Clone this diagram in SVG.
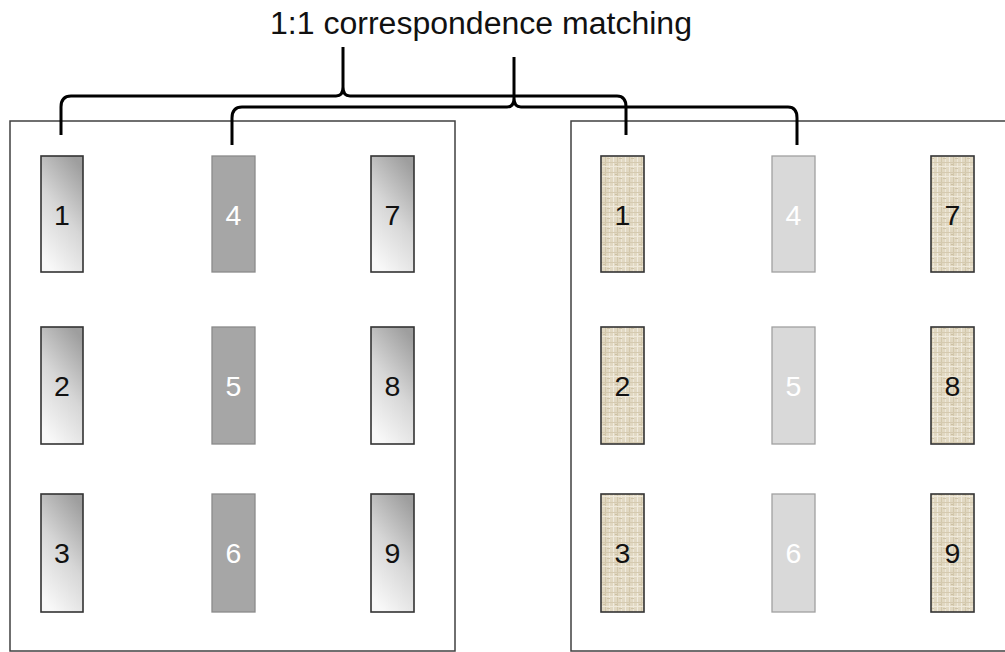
<svg xmlns="http://www.w3.org/2000/svg" width="1005" height="652" viewBox="0 0 1005 652">
  <style>
    .panel { fill: #ffffff; stroke: #404040; stroke-width: 1.5; }
    .grad { fill: url(#greyFade); stroke: #333333; stroke-width: 1.6; }
    .solid { fill: #a6a6a6; stroke: #8a8a8a; stroke-width: 1.3; }
    .burlap { fill: url(#burlapTex); stroke: #333333; stroke-width: 1.6; }
    .pale { fill: #d9d9d9; stroke: #a0a0a0; stroke-width: 1.3; }
    .num { font-family: "Liberation Sans", Arial, sans-serif; font-size: 28.5px; text-anchor: middle; }
    .dark { fill: #111111; }
    .light { fill: #ffffff; }
    .title { font-family: "Liberation Sans", Arial, sans-serif; font-size: 31px; fill: #111111; }
    .brace { fill: none; stroke: #000000; stroke-width: 3; stroke-linejoin: round; }
  </style>
  <defs>
    <linearGradient id="greyFade" x1="0.75" y1="0" x2="0.3" y2="1">
      <stop offset="0" stop-color="#9e9e9e"/>
      <stop offset="0.5" stop-color="#d6d6d6"/>
      <stop offset="1" stop-color="#f8f8f8"/>
    </linearGradient>
    <!-- woven beige texture -->
    <pattern id="burlapTex" patternUnits="userSpaceOnUse" width="12" height="10">
      <rect width="12" height="10" fill="#e1d8c2"/>
      <rect x="1" y="0" width="1" height="10" fill="#f0ebdf"/>
      <rect x="5" y="0" width="1" height="10" fill="#d2c7ab"/>
      <rect x="9" y="0" width="1" height="10" fill="#ede7d8"/>
      <rect x="0" y="2" width="12" height="1" fill="#d5cab0"/>
      <rect x="0" y="6" width="12" height="1" fill="#efe9da"/>
      <rect x="3" y="4" width="2" height="1" fill="#cdc1a4"/>
      <rect x="7" y="8" width="3" height="1" fill="#d0c4a8"/>
    </pattern>
  </defs>

  <text class="title" x="270" y="34" textLength="422" lengthAdjust="spacingAndGlyphs">1:1 correspondence matching</text>

  <!-- panels -->
  <rect id="panel-left" class="panel" x="10" y="121" width="445" height="530"/>
  <rect id="panel-right" class="panel" x="571" y="121" width="445" height="530"/>

  <!-- connectors: curly braces pairing columns -->
  <g id="connectors">
    <path class="brace" d="M61,135 V107 Q61,96 71,96 H336 Q343,96 343,87 V47 M343,87 Q343,96 350,96 H617 Q626,96 626,107 V135"/>
    <path class="brace" d="M232,145 V118 Q232,107 242,107 H507 Q514,107 514,98 V57 M514,98 Q514,107 521,107 H788 Q797,107 797,118 V145"/>
  </g>

  <!-- left set -->
  <g id="L1"><rect class="grad" x="41" y="156" width="42" height="116"/><text class="num dark" x="62" y="225">1</text></g>
  <g id="L2"><rect class="grad" x="41" y="327" width="42" height="117"/><text class="num dark" x="62" y="396">2</text></g>
  <g id="L3"><rect class="grad" x="41" y="494" width="42" height="118"/><text class="num dark" x="62" y="563">3</text></g>
  <g id="L4"><rect class="solid" x="212" y="156" width="43" height="116"/><text class="num light" x="233.5" y="225">4</text></g>
  <g id="L5"><rect class="solid" x="212" y="327" width="43" height="117"/><text class="num light" x="233.5" y="396">5</text></g>
  <g id="L6"><rect class="solid" x="212" y="494" width="43" height="118"/><text class="num light" x="233.5" y="563">6</text></g>
  <g id="L7"><rect class="grad" x="371" y="156" width="43" height="116"/><text class="num dark" x="392.5" y="225">7</text></g>
  <g id="L8"><rect class="grad" x="371" y="327" width="43" height="117"/><text class="num dark" x="392.5" y="396">8</text></g>
  <g id="L9"><rect class="grad" x="371" y="494" width="43" height="118"/><text class="num dark" x="392.5" y="563">9</text></g>

  <!-- right set -->
  <g id="R1"><rect class="burlap" x="601" y="156" width="43" height="116"/><text class="num dark" x="622.5" y="225">1</text></g>
  <g id="R2"><rect class="burlap" x="601" y="327" width="43" height="117"/><text class="num dark" x="622.5" y="396">2</text></g>
  <g id="R3"><rect class="burlap" x="601" y="494" width="43" height="118"/><text class="num dark" x="622.5" y="563">3</text></g>
  <g id="R4"><rect class="pale" x="772" y="156" width="43" height="116"/><text class="num light" x="793.5" y="225">4</text></g>
  <g id="R5"><rect class="pale" x="772" y="327" width="43" height="117"/><text class="num light" x="793.5" y="396">5</text></g>
  <g id="R6"><rect class="pale" x="772" y="494" width="43" height="118"/><text class="num light" x="793.5" y="563">6</text></g>
  <g id="R7"><rect class="burlap" x="931" y="156" width="43" height="116"/><text class="num dark" x="952.5" y="225">7</text></g>
  <g id="R8"><rect class="burlap" x="931" y="327" width="43" height="117"/><text class="num dark" x="952.5" y="396">8</text></g>
  <g id="R9"><rect class="burlap" x="931" y="494" width="43" height="118"/><text class="num dark" x="952.5" y="563">9</text></g>
</svg>
